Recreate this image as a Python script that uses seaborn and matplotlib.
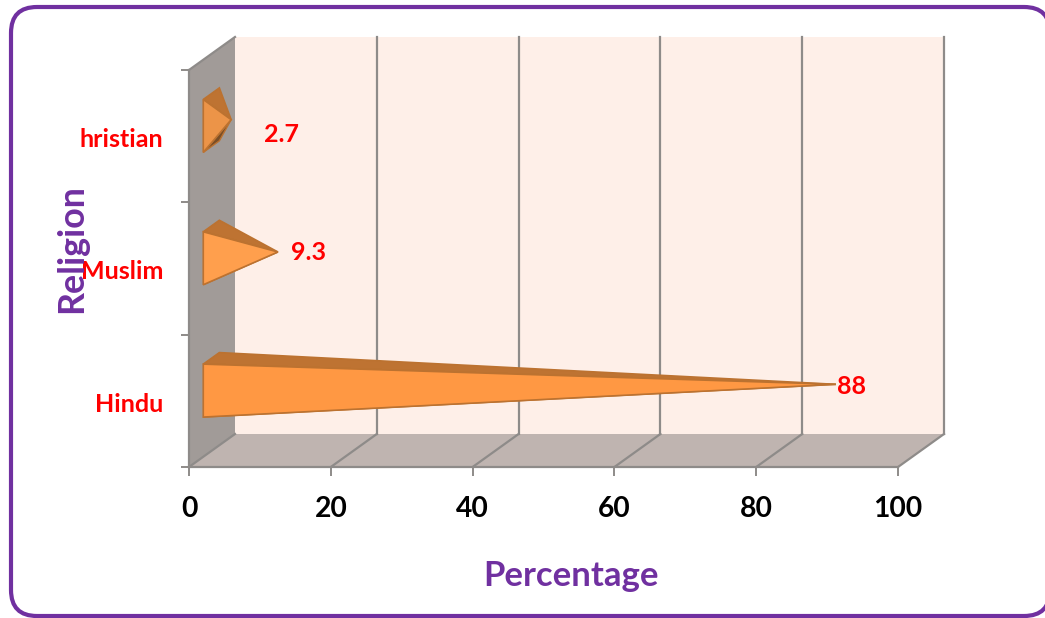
import matplotlib
matplotlib.use("Agg")
import matplotlib.pyplot as plt
import pandas as pd
import seaborn as sns
from matplotlib.patches import FancyBboxPatch, Polygon
from matplotlib.transforms import ScaledTranslation

# data (the C of Christian is cut off in the original)
religions = ["hristian", "Muslim", "Hindu"]
percentages = [2.7, 9.3, 88]
x_ticks = [0, 20, 40, 60, 80, 100]

df = pd.DataFrame({"Religion": religions, "Percentage": percentages})

# colours
purple = "#7030A0"
red = "#FF0000"
grey_line = "#8E8B89"
wall_back = "#FEEFE8"
wall_side = "#A19B98"
wall_floor = "#BFB4B0"
cone_fronts = ["#EC9448", "#FF9F4D", "#FF9843"]
cone_top = "#BE7332"
cone_under = "#7A4E26"
cone_edge = "#BC7230"

sns.set_theme(style="white")
plt.rcParams["font.family"] = ["Lato", "DejaVu Sans"]
plt.rcParams["font.weight"] = "bold"

W, H = 1045, 618
fig = plt.figure(figsize=(W / 100, H / 100), dpi=100)
ax = fig.add_axes([189 / W, 1 - 467 / H, (898 - 189) / W, (467 - 70) / H])

# seaborn gives the scales, the cones below are built from its bars
sns.barplot(data=df, x="Percentage", y="Religion", orient="h", ax=ax, width=0.4)
bars = list(ax.patches)
ax.set_xlim(0, 100)
ax.set_ylim(2.5, -0.5)
ax.autoscale(False)

# 3d depth of the box in data units
px_x = 100 / (898 - 189)
px_y = 3 / (467 - 70)
dx = 46 * px_x
dy = -33 * px_y

# walls
ax.add_patch(Polygon([(dx, 2.5 + dy), (100 + dx, 2.5 + dy), (100 + dx, -0.5 + dy), (dx, -0.5 + dy)],
                     fc=wall_back, ec="none", clip_on=False, zorder=0.1))
ax.add_patch(Polygon([(0, 2.5), (100, 2.5), (100 + dx, 2.5 + dy), (dx, 2.5 + dy)],
                     fc=wall_floor, ec="none", clip_on=False, zorder=0.1))
ax.add_patch(Polygon([(0, 2.5), (dx, 2.5 + dy), (dx, -0.5 + dy), (0, -0.5)],
                     fc=wall_side, ec="none", clip_on=False, zorder=0.1))

# grid lines on floor and back wall
line_kw = dict(color=grey_line, lw=1.6, clip_on=False, zorder=0.2, solid_capstyle="projecting")
for t in x_ticks:
    ax.plot([t, t + dx], [2.5, 2.5 + dy], **line_kw)
    if t > 0:
        ax.plot([t + dx, t + dx], [2.5 + dy, -0.5 + dy], **line_kw)
ax.plot([0, dx], [-0.5, -0.5 + dy], **line_kw)

# cones
f1, f2, f_tip = 0.31, 0.66, 0.5
for bar, front in zip(bars, cone_fronts):
    val = bar.get_width()
    yc = bar.get_y() + bar.get_height() / 2
    half = bar.get_height() / 2
    tip = (val + f_tip * dx, yc + f_tip * dy)
    ft = (f1 * dx, yc + f1 * dy - half)
    fb = (f1 * dx, yc + f1 * dy + half)
    bt = (f2 * dx, yc + f2 * dy - half)
    bb = (f2 * dx, yc + f2 * dy + half)
    ax.add_patch(Polygon([fb, bb, tip], fc=cone_under, ec=cone_edge, lw=1.0, clip_on=False, zorder=2.5))
    ax.add_patch(Polygon([ft, bt, tip], fc=cone_top, ec=cone_edge, lw=1.2, clip_on=False, zorder=3))
    ax.add_patch(Polygon([ft, fb, tip], fc=front, ec=cone_edge, lw=1.2, clip_on=False, zorder=4))
    bar.set_visible(False)

# value labels, offsets in pixels from the cone tip
label_offsets = {"hristian": (33, 15), "Muslim": (13, 1), "Hindu": (1, 2)}
for rel, val, bar in zip(religions, percentages, bars):
    yc = bar.get_y() + bar.get_height() / 2
    off = label_offsets[rel]
    ax.annotate(f"{val:g}", xy=(val + 0.5 * dx, yc + 0.5 * dy), xytext=(off[0] * 0.72, -off[1] * 0.72),
                textcoords="offset points", color=red, fontsize=18, fontweight="bold",
                ha="left", va="center", annotation_clip=False, zorder=6)

# axes
sns.despine(ax=ax)
for s in ["left", "bottom"]:
    ax.spines[s].set_color(grey_line)
    ax.spines[s].set_linewidth(1.6)
    ax.spines[s].set_zorder(1)
ax.set_xticks(x_ticks)
ax.set_xticklabels([str(t) for t in x_ticks], fontsize=20.3, fontweight="bold", color="black")
ax.tick_params(axis="x", length=6.5, width=1.4, color=grey_line, pad=14.5, bottom=True)
ax.set_yticks([0, 1, 2])
ax.set_yticklabels(religions, fontsize=18, fontweight="bold", color=red, zorder=7)
ax.set_yticks([-0.5, 0.5, 1.5, 2.5], minor=True)
ax.tick_params(axis="y", which="minor", length=6, width=1.4, color=grey_line, left=True)
ax.tick_params(axis="y", which="major", length=0, pad=18.7)
for lab in ax.get_yticklabels():
    lab.set_transform(lab.get_transform() + ScaledTranslation(0, -1 / 72, fig.dpi_scale_trans))

ax.set_xlabel("")
ax.set_ylabel("")
fig.text(571 / W, 1 - 576 / H, "Percentage", color=purple, fontsize=25, fontweight="bold", ha="center", va="center")
fig.text(72 / W, 1 - 249 / H, "Religion", color=purple, fontsize=25.8, fontweight="bold",
         rotation=90, ha="center", va="center", zorder=0)

# rounded frame round the whole picture, in pixels; filled so the curve past
# the canvas edge is not mangled by the line clipper
frame = FancyBboxPatch((11, 2), 1039, 609, boxstyle="round,pad=0,rounding_size=26",
                       transform=None, fc="white", ec=purple, lw=3, zorder=-1)
fig.add_artist(frame)

fig.savefig("out.png", dpi=100)
